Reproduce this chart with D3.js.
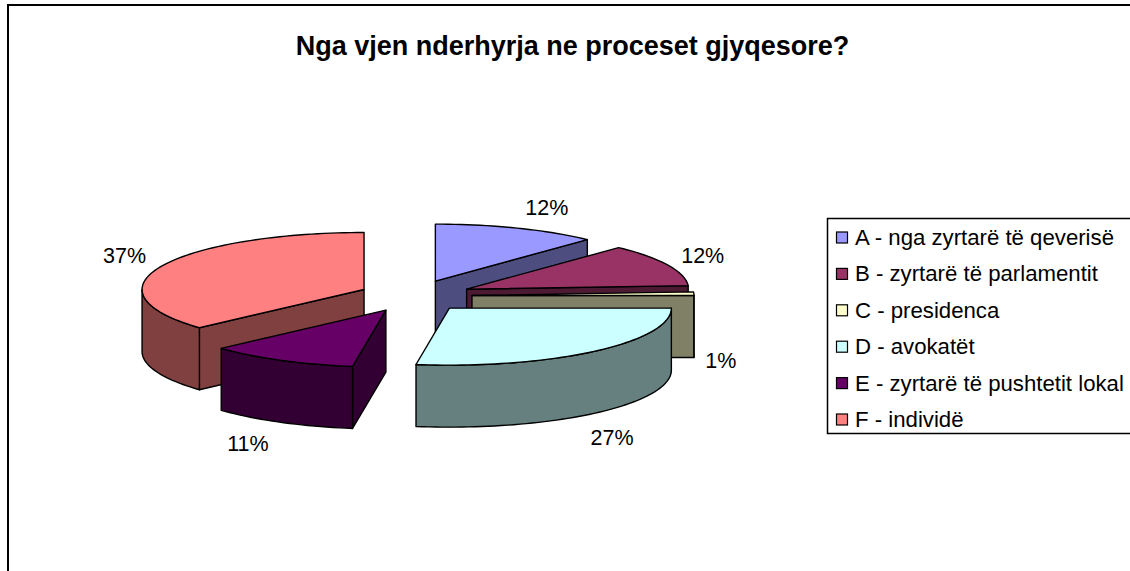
<!DOCTYPE html>
<html>
<head>
<meta charset="utf-8">
<script src="https://cdn.jsdelivr.net/npm/d3@7"></script>
<style>
html,body{margin:0;padding:0;background:#fff;overflow:hidden}
svg{display:block}
text{font-family:"Liberation Sans",Arial,sans-serif;fill:#000}
</style>
</head>
<body>
<svg id="chart" width="1130" height="571"></svg>
<script>
const chartTitle = "Nga vjen nderhyrja ne proceset gjyqesore?";
const categories = ["A - nga zyrtarë të qeverisë","B - zyrtarë të parlamentit","C - presidenca","D - avokatët","E - zyrtarë të pushtetit lokal","F - individë"];
const values = [12.0, 12.0, 1.0, 27.4, 10.9, 36.7];
const topColors = ["#9999FF","#993366","#FFFFCC","#CCFFFF","#660066","#FF8080"];
const wallColors = ["#4D4D80","#4D1A33","#808066","#668080","#330033","#804040"];
const paintOrder = [0,1,2,5,4,3];
const labelNudge = [[15,1],[-1,0],[-13,5],[-8,6],[-14,1],[0,-2]]; // [dx, dy] from computed anchor
const sliceNudge = [[-1,0],[0,0],[0,0],[-3,0],[-3,0],[0,0]];

const layout = {cx:415.6, cy:296, rx:222, ry:57, depth:62, explodeX:56.4, explodeY:16, labelRx:262, labelRy:80};
const svg = d3.select("#chart");

// chart frame
svg.append("path").attr("d","M8,580V5H1135").attr("fill","none").attr("stroke","#000").attr("stroke-width",2);

svg.append("text").attr("x",572.5).attr("y",45).attr("dy","0.36em").attr("text-anchor","middle")
  .attr("font-weight","bold").attr("font-size",27).text(chartTitle);

const pie = d3.pie().sort(null).value(d=>d).startAngle(0).endAngle(2*Math.PI);
const slices = pie(values);
const unitX = d3.scaleLinear().domain([-1,1]).range([-layout.rx,layout.rx]);
const unitY = d3.scaleLinear().domain([-1,1]).range([layout.ry,-layout.ry]);
const line = d3.line();

function sampled(a0,a1){
  const n = Math.max(2,Math.ceil(Math.abs(a1-a0)/0.03));
  return d3.range(n+1).map(i=>a0+(a1-a0)*i/n);
}

const g = svg.append("g");
paintOrder.forEach(i=>{
  const s = slices[i];
  const mid = (s.startAngle+s.endAngle)/2;
  const ax = layout.cx+layout.explodeX*Math.sin(mid)+sliceNudge[i][0];
  const ay = layout.cy-layout.explodeY*Math.cos(mid)+sliceNudge[i][1];
  const P = a=>[ax+unitX(Math.sin(a)),ay+unitY(Math.cos(a))];
  const down = p=>[p[0],p[1]+layout.depth];
  const drawPoly = (pts,fill)=>g.append("path").attr("d",line(pts)+"Z").attr("fill",fill)
     .attr("stroke","#000").attr("stroke-width",1.4).attr("stroke-linejoin","round");
  const wall = wallColors[i];
  // visible radial cut faces
  if(Math.sin(s.startAngle)<-1e-6){
    const p=P(s.startAngle); drawPoly([[ax,ay],p,down(p),[ax,ay+layout.depth]],wall);
  }
  if(Math.sin(s.endAngle)>1e-6){
    const p=P(s.endAngle); drawPoly([[ax,ay],p,down(p),[ax,ay+layout.depth]],wall);
  }
  // visible outer rim: the part facing the viewer
  const a0=Math.max(s.startAngle,Math.PI/2), a1=Math.min(s.endAngle,3*Math.PI/2);
  if(a1>a0){
    const arc=sampled(a0,a1).map(P);
    drawPoly(arc.concat(arc.slice().reverse().map(down)),wall);
  }
  // top
  drawPoly([[ax,ay]].concat(sampled(s.startAngle,s.endAngle).map(P)),topColors[i]);

  // percentage label
  const below = Math.cos(mid)<0.1 ? layout.depth : 0;
  const lx = ax+layout.labelRx*Math.sin(mid)+labelNudge[i][0];
  const ly = ay-layout.labelRy*Math.cos(mid)+below+labelNudge[i][1];
  svg.append("text").attr("class","pct").attr("x",lx).attr("y",ly).attr("dy","0.36em")
    .attr("text-anchor","middle").attr("font-size",21.5)
    .text(d3.format(".0f")(s.value)+"%");
});
svg.selectAll("text.pct").raise();

// legend
const legend = svg.append("g");
legend.append("path").attr("d","M1135,218.5H827.5V433.5H1135").attr("fill","#fff").attr("stroke","#000").attr("stroke-width",1.5);
const rowY = d3.scalePoint().domain(d3.range(categories.length)).range([237,419]);
categories.forEach((c,i)=>{
  legend.append("rect").attr("x",836.5).attr("y",rowY(i)-5).attr("width",11).attr("height",11)
    .attr("fill",topColors[i]).attr("stroke","#000").attr("stroke-width",1.2);
  legend.append("text").attr("x",855).attr("y",rowY(i)).attr("dy","0.36em").attr("font-size",22.2).text(c);
});
</script>
</body>
</html>
